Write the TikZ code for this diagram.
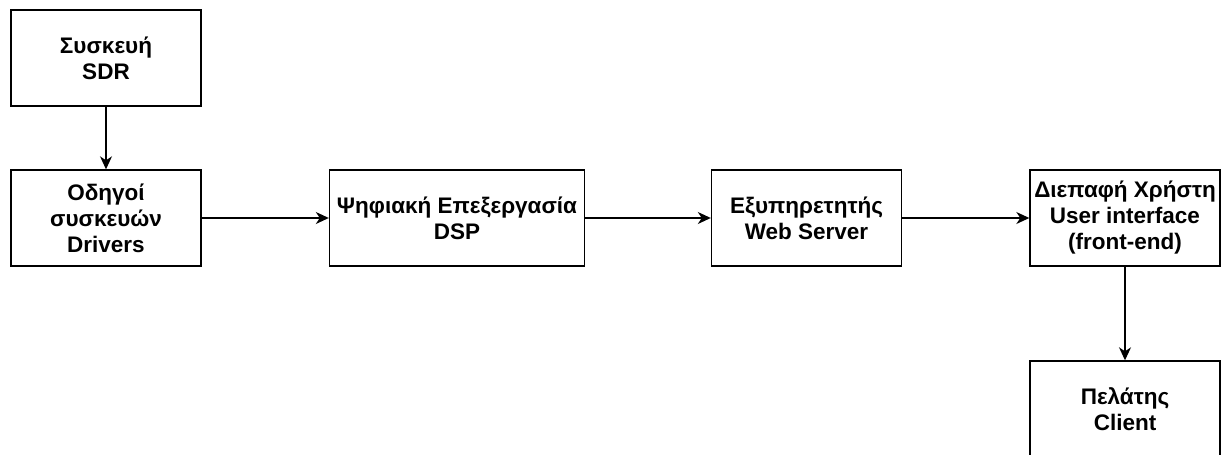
\documentclass[tikz,border=0pt]{standalone}
\usepackage{fontspec}
\setmainfont{Liberation Sans}
\usetikzlibrary{arrows.meta}
\begin{document}
\begin{tikzpicture}[x=1pt,y=-1pt,
  blockbox/.style={draw=black, line width=1.4pt, minimum width=190pt, minimum height=96pt,
    inner sep=0pt, align=center, font=\fontsize{22.5}{26}\selectfont\bfseries},
  flow/.style={draw=black, line width=1.4pt, -{Stealth[length=13pt,width=12pt,inset=4pt]}}]
  \useasboundingbox (0,0) rectangle (1221,455);
  \clip (0,0) rectangle (1221,455);
  \node[blockbox] (sdr) at (106,58) {Συσκευή\\SDR};
  \node[blockbox] (drv) at (106,218) {Οδηγοί\\συσκευών\\Drivers};
  \node[blockbox, minimum width=255pt] (dsp) at (457,218) {Ψηφιακή Επεξεργασία\\DSP};
  \node[blockbox] (web) at (806.5,218) {Εξυπηρετητής\\Web Server};
  \node[blockbox] (ui) at (1125,218) {Διεπαφή Χρήστη\\User interface\\(front-end)};
  \node[blockbox] (cli) at (1125,409) {Πελάτης\\Client};
  \draw[flow] (sdr) -- (drv);
  \draw[flow] (drv) -- (dsp);
  \draw[flow] (dsp) -- (web);
  \draw[flow] (web) -- (ui);
  \draw[flow] (ui) -- (cli);
\end{tikzpicture}
\end{document}
